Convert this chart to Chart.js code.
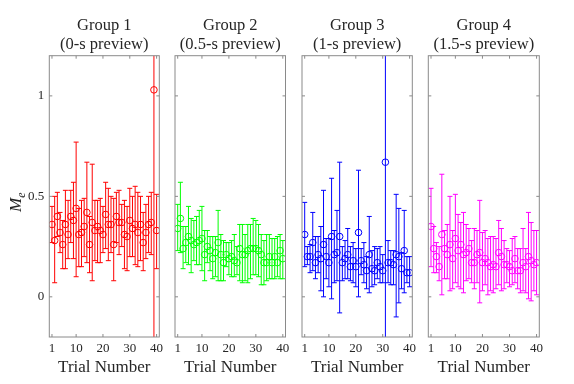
<!DOCTYPE html>
<html>
<head>
<meta charset="utf-8">
<script src="https://cdn.jsdelivr.net/npm/chart.js@4.4.0/dist/chart.umd.min.js"></script>
<style>
  html, body { margin: 0; padding: 0; background: #fff; }
  #wrap { position: relative; width: 574px; height: 384px; }
  #wrap canvas { position: absolute; left: 0; top: 0; }
</style>
</head>
<body>
<div id="wrap">
  <canvas id="g1" width="574" height="384"></canvas>
  <canvas id="g2" width="574" height="384"></canvas>
  <canvas id="g3" width="574" height="384"></canvas>
  <canvas id="g4" width="574" height="384"></canvas>
</div>
<script>
// values
let trials = [1, 2, 3, 4, 5, 6, 7, 8, 9, 10, 11, 12, 13, 14, 15, 16, 17, 18, 19, 20,
  21, 22, 23, 24, 25, 26, 27, 28, 29, 30, 31, 32, 33, 34, 35, 36, 37, 38, 39, 40];
let xTickValues = [1, 10, 20, 30, 40];
let yTickValues = [0, 0.5, 1];
let groupTitles = [
  ["Group 1", "(0-s preview)"],
  ["Group 2", "(0.5-s preview)"],
  ["Group 3", "(1-s preview)"],
  ["Group 4", "(1.5-s preview)"],
];
let xTitle = "Trial Number";

let g1Mean = [0.36, 0.28, 0.40, 0.32, 0.26, 0.36, 0.31, 0.40, 0.38, 0.44, 0.31, 0.32, 0.35, 0.42, 0.26, 0.37, 0.33, 0.35, 0.33, 0.31,
  0.41, 0.36, 0.36, 0.26, 0.40, 0.37, 0.37, 0.31, 0.30, 0.38, 0.34, 0.36, 0.32, 0.36, 0.27, 0.32, 0.36, 0.37, 1.03, 0.33];
let g1Upper = [0.45, 0.50, 0.52, 0.42, 0.38, 0.53, 0.48, 0.53, 0.57, 0.77, 0.44, 0.48, 0.49, 0.67, 0.40, 0.66, 0.48, 0.48, 0.49, 0.45,
  0.57, 0.54, 0.50, 0.49, 0.52, 0.53, 0.46, 0.48, 0.45, 0.54, 0.50, 0.55, 0.52, 0.50, 0.42, 0.46, 0.50, 0.52, 3.00, 0.51];
let g1Lower = [0.27, 0.07, 0.30, 0.22, 0.14, 0.14, 0.19, 0.27, 0.19, 0.10, 0.15, 0.15, 0.20, 0.17, 0.12, 0.08, 0.18, 0.17, 0.17, 0.22,
  0.24, 0.18, 0.22, 0.08, 0.27, 0.21, 0.25, 0.14, 0.13, 0.20, 0.20, 0.16, 0.15, 0.18, 0.13, 0.19, 0.22, 0.21, -1.00, 0.14];

let g2Mean = [0.34, 0.39, 0.24, 0.27, 0.30, 0.28, 0.26, 0.27, 0.28, 0.29, 0.21, 0.25, 0.23, 0.19, 0.22, 0.27, 0.21, 0.17, 0.21, 0.19,
  0.20, 0.18, 0.17, 0.24, 0.21, 0.21, 0.23, 0.24, 0.24, 0.24, 0.23, 0.21, 0.17, 0.17, 0.20, 0.17, 0.20, 0.17, 0.23, 0.19];
let g2Upper = [0.46, 0.57, 0.35, 0.35, 0.45, 0.39, 0.38, 0.40, 0.43, 0.45, 0.33, 0.33, 0.30, 0.30, 0.30, 0.43, 0.31, 0.28, 0.27, 0.27,
  0.28, 0.31, 0.25, 0.36, 0.36, 0.31, 0.36, 0.36, 0.39, 0.38, 0.36, 0.31, 0.28, 0.31, 0.31, 0.29, 0.29, 0.30, 0.31, 0.28];
let g2Lower = [0.23, 0.22, 0.14, 0.17, 0.16, 0.12, 0.18, 0.16, 0.16, 0.13, 0.08, 0.17, 0.13, 0.09, 0.10, 0.08, 0.08, 0.08, 0.15, 0.11,
  0.10, 0.10, 0.11, 0.08, 0.07, 0.08, 0.07, 0.09, 0.11, 0.11, 0.10, 0.06, 0.06, 0.08, 0.09, 0.09, 0.09, 0.10, 0.09, 0.09];

let g3Mean = [0.31, 0.20, 0.20, 0.27, 0.17, 0.21, 0.19, 0.26, 0.20, 0.17, 0.30, 0.21, 0.22, 0.30, 0.17, 0.19, 0.21, 0.15, 0.18, 0.15,
  0.32, 0.18, 0.16, 0.13, 0.21, 0.14, 0.13, 0.17, 0.15, 0.13, 0.67, 0.17, 0.17, 0.16, 0.21, 0.20, 0.14, 0.23, 0.12, 0.12];
let g3Upper = [0.47, 0.25, 0.26, 0.42, 0.30, 0.30, 0.35, 0.53, 0.29, 0.29, 0.59, 0.33, 0.43, 0.67, 0.25, 0.28, 0.34, 0.25, 0.27, 0.24,
  0.63, 0.24, 0.27, 0.20, 0.40, 0.23, 0.25, 0.24, 0.25, 0.21, 1.90, 0.28, 0.23, 0.23, 0.51, 0.44, 0.22, 0.43, 0.20, 0.20];
let g3Lower = [0.15, 0.16, 0.12, 0.13, 0.09, 0.12, 0.03, 0.00, 0.09, 0.05, -0.01, 0.07, 0.08, -0.08, 0.08, 0.09, 0.09, 0.08, 0.07, 0.05,
  0.00, 0.11, 0.07, 0.04, 0.02, 0.05, 0.06, 0.09, 0.07, 0.07, -0.50, 0.07, 0.06, 0.06, -0.10, -0.03, 0.04, 0.02, 0.07, 0.05];

let g4Mean = [0.35, 0.24, 0.20, 0.15, 0.31, 0.24, 0.21, 0.26, 0.19, 0.29, 0.23, 0.26, 0.21, 0.22, 0.24, 0.17, 0.17, 0.21, 0.22, 0.17,
  0.19, 0.17, 0.15, 0.16, 0.15, 0.22, 0.20, 0.16, 0.16, 0.15, 0.13, 0.19, 0.13, 0.13, 0.17, 0.15, 0.20, 0.18, 0.16, 0.17];
let g4Upper = [0.54, 0.35, 0.27, 0.25, 0.61, 0.33, 0.36, 0.50, 0.33, 0.51, 0.41, 0.37, 0.42, 0.36, 0.34, 0.28, 0.34, 0.33, 0.48, 0.32,
  0.33, 0.29, 0.30, 0.30, 0.29, 0.38, 0.34, 0.28, 0.24, 0.23, 0.29, 0.30, 0.24, 0.24, 0.34, 0.24, 0.42, 0.37, 0.33, 0.33];
let g4Lower = [0.15, 0.12, 0.12, 0.08, 0.01, 0.09, 0.09, 0.03, 0.04, 0.07, 0.05, 0.04, 0.02, 0.08, 0.09, 0.07, 0.04, 0.07, -0.03, 0.03,
  0.06, 0.01, 0.03, 0.02, 0.04, 0.06, 0.03, 0.04, 0.07, 0.05, 0.06, 0.07, 0.04, 0.02, 0.03, 0.02, -0.01, -0.02, 0.03, 0.01];

// panel placement (chart area edges, px)
let panelLeft = [49.3, 175, 302, 428.3];
let panelRight = [159.3, 285.5, 412.3, 539.3];
let serif = "'Liberation Serif', 'Times New Roman', serif";
let textColor = "#262626";
let boxColor = "#8a8a8a";

// vertical error bars with caps, drawn under the markers
const errorBars = {
  id: "errorBars",
  beforeDatasetsDraw(chart) {
    const { ctx, chartArea, scales } = chart;
    ctx.save();
    ctx.beginPath();
    ctx.rect(chartArea.left, chartArea.top, chartArea.right - chartArea.left, chartArea.bottom - chartArea.top);
    ctx.clip();
    chart.data.datasets.forEach((ds) => {
      ctx.strokeStyle = ds.borderColor;
      ctx.lineWidth = 1;
      ds.data.forEach((d) => {
        const px = scales.x.getPixelForValue(d.x);
        const pLo = scales.y.getPixelForValue(d.lo);
        const pHi = scales.y.getPixelForValue(d.hi);
        ctx.beginPath();
        ctx.moveTo(px, pLo);
        ctx.lineTo(px, pHi);
        ctx.moveTo(px - 2.5, pLo);
        ctx.lineTo(px + 2.5, pLo);
        ctx.moveTo(px - 2.5, pHi);
        ctx.lineTo(px + 2.5, pHi);
        ctx.stroke();
      });
    });
    ctx.restore();
  },
};

// matlab style box with inward ticks
const axesBox = {
  id: "axesBox",
  afterDraw(chart) {
    const { ctx, chartArea: a, scales } = chart;
    ctx.save();
    ctx.strokeStyle = boxColor;
    ctx.lineWidth = 1;
    ctx.strokeRect(a.left, a.top, a.right - a.left, a.bottom - a.top);
    ctx.beginPath();
    xTickValues.forEach((v) => {
      const px = scales.x.getPixelForValue(v);
      ctx.moveTo(px, a.bottom);
      ctx.lineTo(px, a.bottom - 3);
      ctx.moveTo(px, a.top);
      ctx.lineTo(px, a.top + 3);
    });
    yTickValues.forEach((v) => {
      const py = scales.y.getPixelForValue(v);
      ctx.moveTo(a.left, py);
      ctx.lineTo(a.left + 3, py);
      ctx.moveTo(a.right, py);
      ctx.lineTo(a.right - 3, py);
    });
    ctx.stroke();
    ctx.restore();
  },
};

// y label M with subscript e, only on the first panel
const yLabel = {
  id: "yLabel",
  afterDraw(chart) {
    const ctx = chart.ctx;
    ctx.save();
    ctx.translate(21, 212);
    ctx.rotate(-Math.PI / 2);
    ctx.fillStyle = textColor;
    ctx.textAlign = "left";
    ctx.textBaseline = "alphabetic";
    ctx.font = "italic 17px " + serif;
    ctx.fillText("M", 0, 0);
    const w = ctx.measureText("M").width;
    ctx.font = "italic 12px " + serif;
    ctx.fillText("e", w, 3.5);
    ctx.restore();
  },
};

function makePanel(id, idx, mean, lower, upper, color) {
  const points = trials.map((t, i) => ({ x: t, y: mean[i], lo: lower[i], hi: upper[i] }));
  const extra = idx === 0 ? [errorBars, axesBox, yLabel] : [errorBars, axesBox];
  new Chart(document.getElementById(id).getContext("2d"), {
    type: "scatter",
    data: {
      datasets: [
        {
          data: points,
          borderColor: color,
          backgroundColor: "rgba(0,0,0,0)",
          borderWidth: 1,
          pointStyle: "circle",
          pointRadius: 3.3,
        },
      ],
    },
    options: {
      responsive: false,
      animation: false,
      events: [],
      layout: { padding: { left: 0, top: 0, bottom: 0, right: 574 - panelRight[idx] } },
      plugins: {
        legend: { display: false },
        tooltip: { enabled: false },
        title: {
          display: true,
          text: groupTitles[idx],
          fullSize: false,
          color: textColor,
          font: { family: serif, size: 16.5, weight: "normal", lineHeight: "19px" },
          padding: { top: 16.5, bottom: 1.2 },
        },
      },
      scales: {
        x: {
          type: "linear",
          min: 0,
          max: 41,
          afterBuildTicks: (s) => { s.ticks = xTickValues.map((v) => ({ value: v })); },
          afterFit: (s) => { s.height = 47; },
          grid: { display: false, drawTicks: false },
          border: { display: false },
          ticks: {
            padding: 4.2,
            color: textColor,
            maxRotation: 0,
            autoSkip: false,
            font: { family: serif, size: 13 },
            callback: (v) => String(v),
          },
          title: {
            display: true,
            text: xTitle,
            color: textColor,
            font: { family: serif, size: 17 },
            padding: { top: 0, bottom: 5.8 },
          },
        },
        y: {
          min: -0.2,
          max: 1.2,
          afterBuildTicks: (s) => { s.ticks = yTickValues.map((v) => ({ value: v })); },
          afterFit: (s) => { s.width = panelLeft[idx]; },
          grid: { display: false, drawTicks: false },
          border: { display: false },
          ticks: {
            display: idx === 0,
            padding: 5,
            color: textColor,
            font: { family: serif, size: 13 },
            callback: (v) => String(v),
          },
        },
      },
    },
    plugins: extra,
  });
}

makePanel("g1", 0, g1Mean, g1Lower, g1Upper, "#ff0000");
makePanel("g2", 1, g2Mean, g2Lower, g2Upper, "#00ff00");
makePanel("g3", 2, g3Mean, g3Lower, g3Upper, "#0000ff");
makePanel("g4", 3, g4Mean, g4Lower, g4Upper, "#ff00ff");
</script>
</body>
</html>
